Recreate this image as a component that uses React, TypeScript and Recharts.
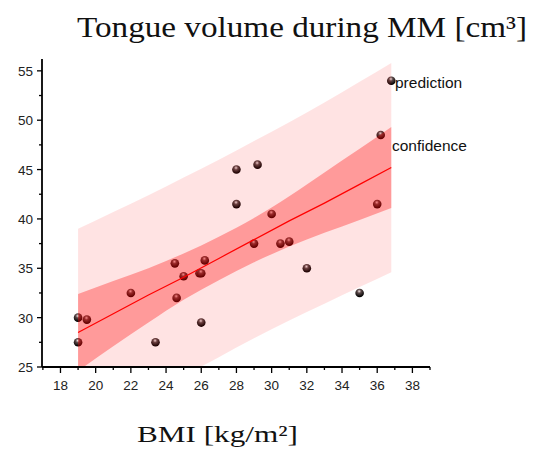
import { ComposedChart, Area, Line, Scatter, XAxis, YAxis } from 'recharts'

// fitted line and the two bands at a few BMI values
const bandX = [19, 21, 23, 25, 27, 29, 31, 33, 35, 36.8]
const fitLine = [28.5, 30.4, 32.3, 34.1, 36.0, 37.9, 39.8, 41.6, 43.5, 45.2]
const confLow = [24.6, 27.1, 29.5, 31.8, 33.8, 35.6, 37.2, 38.6, 39.9, 41.1]
const confHigh = [32.4, 33.7, 35.0, 36.5, 38.2, 40.1, 42.3, 44.7, 47.1, 49.3]
const predLow = [18.0, 20.1, 22.1, 24.1, 26.0, 27.9, 29.7, 31.4, 33.1, 34.6]
const predHigh = [39.0, 40.7, 42.4, 44.2, 46.0, 47.9, 49.8, 51.8, 53.9, 55.8]

// measured patients
const bmi = [19, 19.5, 19, 22, 23.4, 24.5, 24.6, 25, 25.9, 26, 26.2, 26, 28, 28, 29.2, 29, 30, 30.5, 31, 32, 35, 36, 36.2, 36.8]
const volume = [30, 29.8, 27.5, 32.5, 27.5, 35.5, 32, 34.2, 34.5, 34.5, 35.8, 29.5, 41.5, 45, 45.5, 37.5, 40.5, 37.5, 37.7, 35, 32.5, 41.5, 48.5, 54]

const xTicks = [17, 18, 19, 20, 21, 22, 23, 24, 25, 26, 27, 28, 29, 30, 31, 32, 33, 34, 35, 36, 37, 38, 39]
const xLabels = [18, 20, 22, 24, 26, 28, 30, 32, 34, 36, 38]
const yTicks = [25, 27.5, 30, 32.5, 35, 37.5, 40, 42.5, 45, 47.5, 50, 52.5, 55]
const yLabels = [25, 30, 35, 40, 45, 50, 55]

const rows = bandX.map((x, i) => ({
  x,
  fit: fitLine[i],
  conf: [confLow[i], confHigh[i]],
  pred: [predLow[i], predHigh[i]],
}))
const points = bmi.map((x, i) => ({ x, y: volume[i] }))

const tickFont = { fontFamily: '"Liberation Sans", Arial, sans-serif', fontSize: 13.5, fill: '#222' }

function XTick({ x, y, payload }: any) {
  const major = xLabels.includes(payload.value)
  return (
    <g>
      <line x1={x} x2={x} y1={y} y2={y + (major ? 6 : 3)} stroke="#000" strokeWidth={1.3} />
      {major && (
        <text x={x} y={y + 23} textAnchor="middle" {...tickFont}>{payload.value}</text>
      )}
    </g>
  )
}

function YTick({ x, y, payload }: any) {
  const major = yLabels.includes(payload.value)
  return (
    <g>
      <line x1={x} x2={x - (major ? 5 : 3)} y1={y} y2={y} stroke="#000" strokeWidth={1.3} />
      {major && (
        <text x={x - 9} y={y + 5} textAnchor="end" {...tickFont}>{payload.value}</text>
      )}
    </g>
  )
}

function Ball({ cx, cy }: any) {
  if (cx == null || cy == null) return null
  return (
    <g>
      <defs>
        <radialGradient id="ball" cx="0.45" cy="0.3" r="0.65">
          <stop offset="0" stopColor="#f0e4e4" />
          <stop offset="0.35" stopColor="#5a4848" />
          <stop offset="1" stopColor="#000" />
        </radialGradient>
      </defs>
      <circle cx={cx} cy={cy} r={4.3} fill="url(#ball)" />
    </g>
  )
}

export default function App() {
  return (
    <div style={{ position: 'absolute', left: 0, top: 0, width: 533, height: 452, background: '#fff' }}>
      <ComposedChart width={533} height={452} data={rows} margin={{ top: 59, right: 103, left: 0, bottom: 0 }}>
        <XAxis
          type="number"
          dataKey="x"
          domain={[16.95, 39]}
          ticks={xTicks}
          interval={0}
          height={85}
          tickSize={0}
          tickMargin={0}
          tick={<XTick />}
          axisLine={{ stroke: '#000', strokeWidth: 1.8 }}
          allowDataOverflow
        />
        <YAxis
          type="number"
          domain={[25, 56.2]}
          ticks={yTicks}
          interval={0}
          width={42}
          tickSize={0}
          tickMargin={0}
          tick={<YTick />}
          axisLine={{ stroke: '#000', strokeWidth: 1.8 }}
          allowDataOverflow
        />
        <Scatter data={points} dataKey="y" shape={<Ball />} isAnimationActive={false} zIndex={50} />
        <Area
          dataKey="pred"
          type="monotone"
          stroke="none"
          fill="#ff0000"
          fillOpacity={0.11}
          activeDot={false}
          isAnimationActive={false}
          zIndex={100}
        />
        <Area
          dataKey="conf"
          type="monotone"
          stroke="none"
          fill="#ff0000"
          fillOpacity={0.32}
          activeDot={false}
          isAnimationActive={false}
          zIndex={110}
        />
        <Line
          dataKey="fit"
          type="linear"
          stroke="#ff0000"
          strokeWidth={1.2}
          dot={false}
          activeDot={false}
          isAnimationActive={false}
          zIndex={120}
        />
      </ComposedChart>
      <svg width={533} height={452} style={{ position: 'absolute', left: 0, top: 0, pointerEvents: 'none' }}>
        <text x={77} y={37} fontFamily='"Liberation Serif", serif' fontSize={30} fill="#111" textLength={450} lengthAdjust="spacingAndGlyphs">
          Tongue volume during MM [cm³]
        </text>
        <text x={137} y={442} fontFamily='"Liberation Serif", serif' fontSize={23} fill="#111" textLength={161} lengthAdjust="spacingAndGlyphs">
          BMI [kg/m²]
        </text>
        <text x={395} y={87.5} fontFamily='"Liberation Sans", Arial, sans-serif' fontSize={15.5} fill="#111">
          prediction
        </text>
        <text x={392} y={150.5} fontFamily='"Liberation Sans", Arial, sans-serif' fontSize={15.5} fill="#111">
          confidence
        </text>
      </svg>
    </div>
  )
}
